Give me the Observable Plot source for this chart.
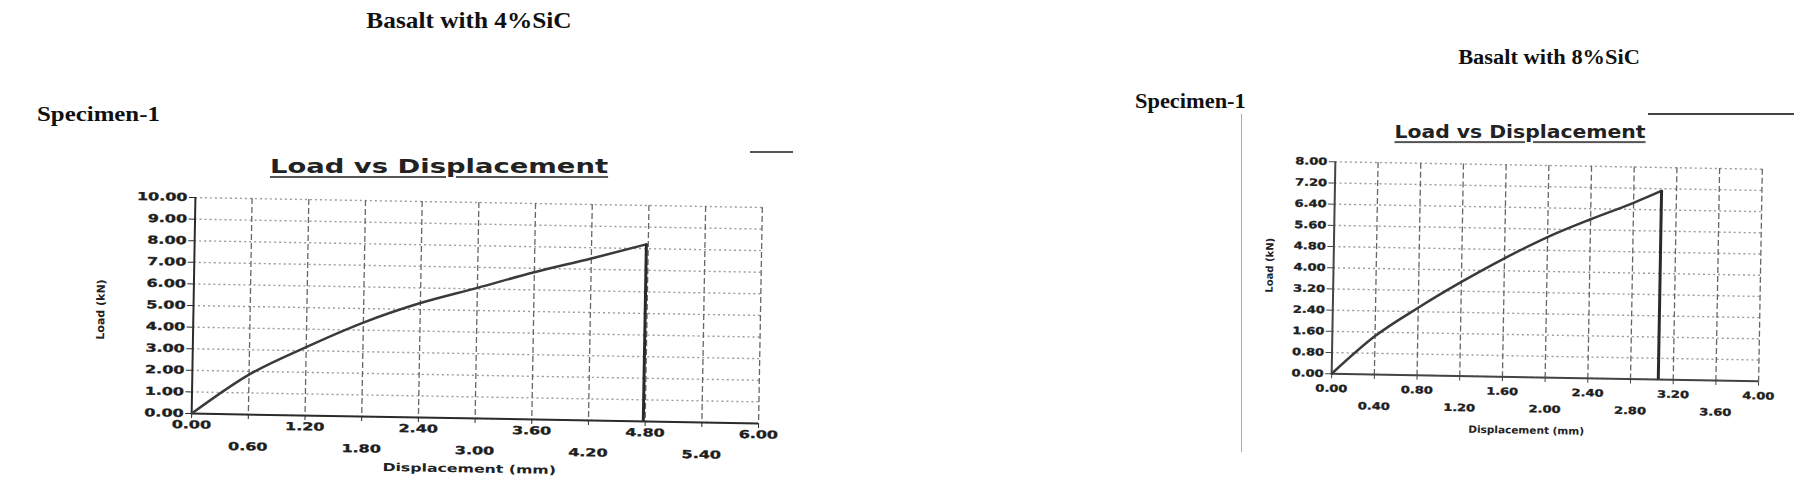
<!DOCTYPE html>
<html>
<head>
<meta charset="utf-8">
<script src="https://cdn.jsdelivr.net/npm/d3@7"></script>
<script src="https://cdn.jsdelivr.net/npm/@observablehq/plot@0.6"></script>
<style>
  html, body { margin: 0; padding: 0; background: #fff; }
  body { width: 1794px; height: 485px; overflow: hidden; position: relative; }
  .serif { position: absolute; font-family: "Liberation Serif", serif; font-weight: bold; color: #111; white-space: nowrap; line-height: 1; }
  .ctitle { position: absolute; font-family: "DejaVu Sans", sans-serif; font-weight: bold; color: #222; white-space: nowrap; line-height: 1.1;
            text-decoration: underline; text-decoration-color: #555; text-decoration-thickness: 2px; text-underline-offset: 3px; }
  .alabel { position: absolute; font-family: "DejaVu Sans", sans-serif; font-weight: bold; color: #222; white-space: nowrap; line-height: 1; }
  .wrap { position: absolute; top: 0; height: 485px; }
  .deco { position: absolute; }
</style>
</head>
<body>
<script>
// ---------- Data: Basalt with 4%SiC, Specimen-1 ----------
const disp4 = [0, 0.6, 1.2, 1.8, 2.4, 3.0, 3.6, 4.2, 4.78];
const load4 = [0, 1.85, 3.17, 4.35, 5.3, 6.05, 6.82, 7.5, 8.2];
const yTicks4 = [0, 1, 2, 3, 4, 5, 6, 7, 8, 9, 10];
const xUpper4 = [0, 1.2, 2.4, 3.6, 4.8, 6.0];
const xLower4 = [0.6, 1.8, 3.0, 4.2, 5.4];
const xGrid4 = [0.6, 1.2, 1.8, 2.4, 3.0, 3.6, 4.2, 4.8, 5.4, 6.0];

// ---------- Data: Basalt with 8%SiC, Specimen-1 ----------
const disp8 = [0, 0.4, 0.8, 1.2, 1.6, 2.0, 2.4, 2.8, 3.06];
const load8 = [0, 1.45, 2.55, 3.55, 4.47, 5.3, 6.0, 6.65, 7.12];
const yTicks8 = [0, 0.8, 1.6, 2.4, 3.2, 4.0, 4.8, 5.6, 6.4, 7.2, 8.0];
const xUpper8 = [0, 0.8, 1.6, 2.4, 3.2, 4.0];
const xLower8 = [0.4, 1.2, 2.0, 2.8, 3.6];
const xGrid8 = [0.4, 0.8, 1.2, 1.6, 2.0, 2.4, 2.8, 3.2, 3.6, 4.0];

const fmt = d => d.toFixed(2);

function lineChart(o) {
  const pts = o.xs.map((x, i) => ({x, y: o.ys[i]}));
  const peak = pts[pts.length - 1];
  const svg = Plot.plot({
    width: o.width, height: 485,
    marginLeft: o.ml, marginRight: o.mr, marginTop: o.mt, marginBottom: o.mb,
    x: {domain: o.xDomain},
    y: {domain: o.yDomain},
    style: {background: "transparent", fontFamily: "DejaVu Sans", fontWeight: "bold", fontSize: o.fs + "px", color: "#1e1e1e", overflow: "visible"},
    marks: [
      Plot.gridX(o.xGrid, {stroke: "#333", strokeOpacity: 0.75, strokeWidth: 1.3, strokeDasharray: "6,3"}),
      Plot.gridY(o.yTicks, {stroke: "#666", strokeOpacity: 0.65, strokeWidth: 1.4, strokeDasharray: "2,3"}),
      Plot.axisY(o.yTicks, {tickFormat: fmt, tickSize: 6, tickPadding: 2, label: null, fontSize: o.fs, stroke: o.axisColor}),
      Plot.axisX(o.xUpper, {tickFormat: fmt, tickSize: 5, tickPadding: o.pu, label: null, fontSize: o.fs, stroke: o.axisColor}),
      Plot.axisX(o.xLower, {tickFormat: fmt, tickSize: 5, tickPadding: o.pl, label: null, fontSize: o.fs, stroke: o.axisColor}),
      Plot.ruleY([0], {stroke: o.axisColor, strokeWidth: 2}),
      Plot.ruleX([0], {stroke: o.axisColor, strokeWidth: 2}),
      Plot.line(pts, {x: "x", y: "y", stroke: "#3a3a3a", strokeWidth: 2.5, curve: "monotone-x"}),
      Plot.ruleX([{x: peak.x, y1: 0, y2: peak.y}], {x: "x", y1: "y1", y2: "y2", stroke: "#2a2a2a", strokeWidth: 3})
    ]
  });
  // horizontally stretched, heavy tick labels, as in the scanned chart
  svg.querySelectorAll('g[aria-label$="tick label"] text').forEach(el => {
    const t = el.getAttribute("transform") || "";
    const x = +(el.getAttribute("x") || 0);
    el.setAttribute("transform", `${t} translate(${x},0) scale(${o.stretch},1) translate(${-x},0)`);
    el.setAttribute("stroke", "#1e1e1e");
    el.setAttribute("stroke-width", "0.35");
  });
  return svg;
}

function addDiv(parent, cls, text, css) {
  const d = document.createElement("div");
  d.className = cls;
  d.textContent = text;
  Object.assign(d.style, css);
  parent.appendChild(d);
  return d;
}

const body = document.body;

// ---------- Left panel ----------
addDiv(body, "serif", "Basalt with 4%SiC", {left: "469px", top: "20px", fontSize: "23px", transform: "translate(-50%,-50%) scaleX(1.1)"});
addDiv(body, "serif", "Specimen-1", {left: "37px", top: "114px", fontSize: "22px", transformOrigin: "left center", transform: "translate(0,-50%) scaleX(1.13)"});
addDiv(body, "ctitle", "Load vs Displacement", {left: "439px", top: "166px", fontSize: "20px", transform: "translate(-50%,-50%) scaleX(1.37)"});
addDiv(body, "deco", "", {left: "750px", top: "151px", width: "43px", height: "2px", background: "#555"});

const wrapL = document.createElement("div");
wrapL.className = "wrap";
Object.assign(wrapL.style, {left: "0px", width: "800px", transformOrigin: "476px 310px", transform: "rotate(1deg)"});
body.appendChild(wrapL);
wrapL.appendChild(lineChart({
  width: 800, ml: 193, mr: 40, mt: 202, mb: 67,
  xDomain: [0, 6], yDomain: [0, 10],
  xs: disp4, ys: load4, yTicks: yTicks4, xUpper: xUpper4, xLower: xLower4, xGrid: xGrid4,
  fs: 11, pu: 2, pl: 23, stretch: 1.45, axisColor: "#2b2b2b"
}));
addDiv(wrapL, "alabel", "Displacement (mm)", {left: "472px", top: "469px", fontSize: "11px", transform: "translate(-50%,-50%) scaleX(1.43)"});
addDiv(wrapL, "alabel", "Load (kN)", {left: "101px", top: "316px", fontSize: "11px", transform: "translate(-50%,-50%) rotate(-90deg)"});

// ---------- Right panel ----------
addDiv(body, "serif", "Basalt with 8%SiC", {left: "1549px", top: "57px", fontSize: "20px", transform: "translate(-50%,-50%) scaleX(1.12)"});
addDiv(body, "serif", "Specimen-1", {left: "1135px", top: "101px", fontSize: "20px", transformOrigin: "left center", transform: "translate(0,-50%) scaleX(1.12)"});
addDiv(body, "ctitle", "Load vs Displacement", {left: "1520px", top: "132px", fontSize: "18px", transform: "translate(-50%,-50%) scaleX(1.13)"});
addDiv(body, "deco", "", {left: "1241px", top: "114px", width: "1px", height: "338px", background: "#aaa"});
addDiv(body, "deco", "", {left: "1648px", top: "113px", width: "146px", height: "2px", background: "#444"});

const wrapR = document.createElement("div");
wrapR.className = "wrap";
Object.assign(wrapR.style, {left: "1100px", width: "694px", transformOrigin: "446px 271px", transform: "rotate(1deg)"});
body.appendChild(wrapR);
wrapR.appendChild(lineChart({
  width: 694, ml: 233, mr: 34, mt: 165, mb: 108,
  xDomain: [0, 4], yDomain: [0, 8],
  xs: disp8, ys: load8, yTicks: yTicks8, xUpper: xUpper8, xLower: xLower8, xGrid: xGrid8,
  fs: 10, pu: 6, pl: 23, stretch: 1.3, axisColor: "#444"
}));
addDiv(wrapR, "alabel", "Displacement (mm)", {left: "429px", top: "431px", fontSize: "10px", transform: "translate(-50%,-50%) scaleX(1.05)"});
addDiv(wrapR, "alabel", "Load (kN)", {left: "170px", top: "270px", fontSize: "10px", transform: "translate(-50%,-50%) rotate(-90deg)"});
</script>
</body>
</html>
